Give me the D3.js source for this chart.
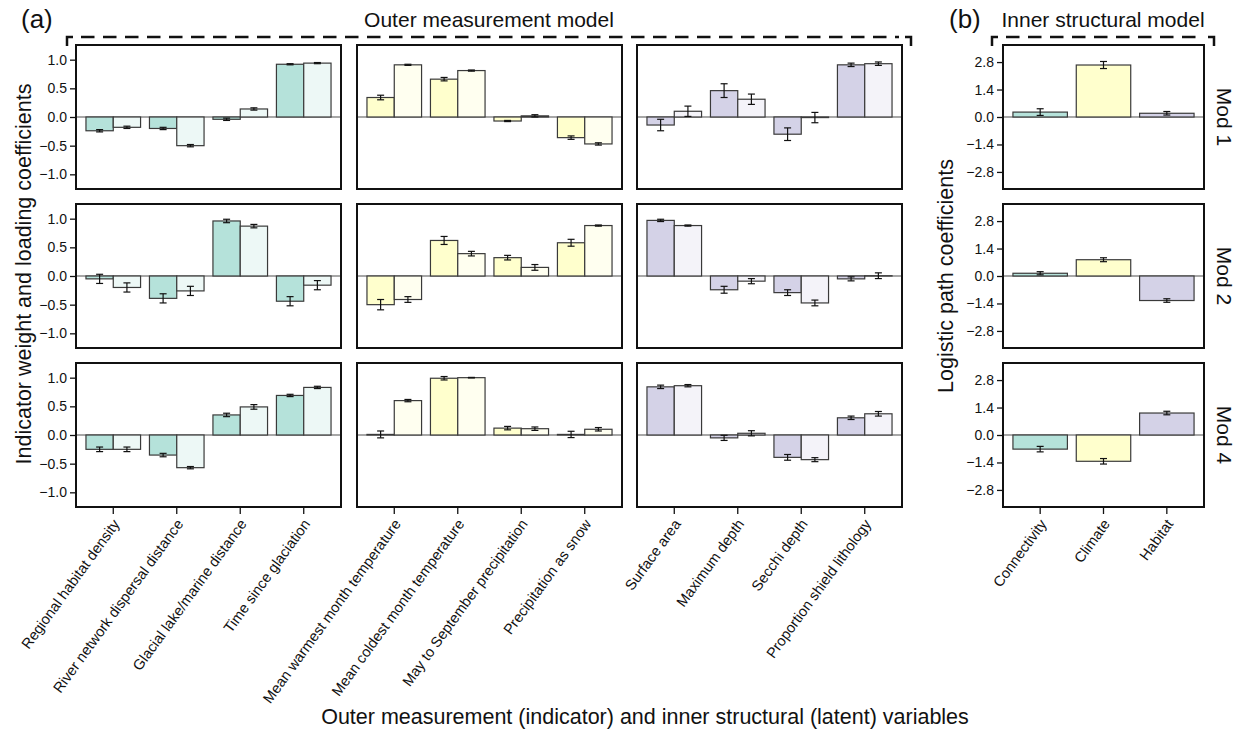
<!DOCTYPE html>
<html>
<head>
<meta charset="utf-8">
<script src="https://cdn.jsdelivr.net/npm/d3@7"></script>
<style>
body { margin: 0; background: #fff; }
text { font-family: "Liberation Sans", Arial, sans-serif; fill: #111; }
</style>
</head>
<body>
<div id="chartDiv"></div>
<script>
"use strict";

// categories
var connectivityVars = ["Regional habitat density", "River network dispersal distance", "Glacial lake/marine distance", "Time since glaciation"];
var climateVars = ["Mean warmest month temperature", "Mean coldest month temperature", "May to September precipitation", "Precipitation as snow"];
var habitatVars = ["Surface area", "Maximum depth", "Secchi depth", "Proportion shield lithology"];
var latentVars = ["Connectivity", "Climate", "Habitat"];
var models = ["Mod 1", "Mod 2", "Mod 4"];

// outer weights (dark bars) and loadings (light bars), 12 indicators per model
var weightMod1 = [-0.24, -0.20, -0.04, 0.92, 0.34, 0.66, -0.07, -0.36, -0.14, 0.46, -0.30, 0.91];
var weightErrMod1 = [0.02, 0.02, 0.02, 0.01, 0.04, 0.03, 0.01, 0.03, 0.10, 0.12, 0.11, 0.03];
var loadingMod1 = [-0.18, -0.50, 0.14, 0.94, 0.91, 0.81, 0.02, -0.47, 0.10, 0.31, -0.01, 0.93];
var loadingErrMod1 = [0.02, 0.02, 0.02, 0.01, 0.01, 0.01, 0.02, 0.02, 0.09, 0.09, 0.09, 0.03];

var weightMod2 = [-0.05, -0.39, 0.96, -0.44, -0.50, 0.62, 0.32, 0.58, 0.97, -0.24, -0.29, -0.05];
var weightErrMod2 = [0.08, 0.08, 0.03, 0.08, 0.09, 0.07, 0.04, 0.06, 0.02, 0.06, 0.05, 0.035];
var loadingMod2 = [-0.20, -0.26, 0.87, -0.16, -0.41, 0.39, 0.15, 0.88, 0.88, -0.09, -0.47, 0.005];
var loadingErrMod2 = [0.08, 0.08, 0.03, 0.08, 0.05, 0.04, 0.05, 0.01, 0.01, 0.045, 0.05, 0.05];

var weightMod4 = [-0.25, -0.35, 0.35, 0.69, 0.01, 0.99, 0.12, 0.01, 0.84, -0.05, -0.39, 0.30];
var weightErrMod4 = [0.04, 0.03, 0.03, 0.02, 0.06, 0.03, 0.03, 0.055, 0.03, 0.045, 0.05, 0.03];
var loadingMod4 = [-0.25, -0.57, 0.49, 0.83, 0.60, 1.00, 0.11, 0.10, 0.86, 0.03, -0.43, 0.37];
var loadingErrMod4 = [0.04, 0.02, 0.04, 0.02, 0.02, 0.005, 0.03, 0.03, 0.02, 0.045, 0.035, 0.04];

// inner path coefficients per model
var pathMod1 = [0.25, 2.65, 0.19];
var pathErrMod1 = [0.17, 0.18, 0.09];
var pathMod2 = [0.14, 0.83, -1.25];
var pathErrMod2 = [0.08, 0.10, 0.09];
var pathMod4 = [-0.72, -1.34, 1.12];
var pathErrMod4 = [0.14, 0.14, 0.09];

// tick values
var outerTicks = [-1.0, -0.5, 0.0, 0.5, 1.0];
var innerTicks = [-2.8, -1.4, 0.0, 1.4, 2.8];

// colours: dark = weight / latent, light = loading
var darkFill = ["#b5e2da", "#ffffcd", "#d4d2e7"];
var lightFill = ["#edf8f6", "#fffff0", "#f4f3f9"];

// layout
var svgWidth = 1244, svgHeight = 731;
var rowTop = [45, 204, 363], rowHeight = 144;
var blockLeft = [76, 357, 637], blockWidth = 265;
var innerLeft = 1003, innerWidth = 201;

var svg = d3.select("#chartDiv").append("svg")
    .attr("width", svgWidth).attr("height", svgHeight)
    .style("background", "#fff");

var yOuter = d3.scaleLinear().domain([-1.256, 1.256]).range([rowHeight, 0]);
var yInner = d3.scaleLinear().domain([-3.67, 3.67]).range([rowHeight, 0]);

var rows = [
    {w: weightMod1, we: weightErrMod1, l: loadingMod1, le: loadingErrMod1, p: pathMod1, pe: pathErrMod1},
    {w: weightMod2, we: weightErrMod2, l: loadingMod2, le: loadingErrMod2, p: pathMod2, pe: pathErrMod2},
    {w: weightMod4, we: weightErrMod4, l: loadingMod4, le: loadingErrMod4, p: pathMod4, pe: pathErrMod4}
];
var blocks = [connectivityVars, climateVars, habitatVars];

// draw one framed panel; series is a list of {values, errors}, fillFor(k, i) gives the colour
function drawPanel(g, cats, series, fillFor, y, ticks, width, showY, bottom) {
    var x0 = d3.scaleBand().domain(cats).range([0, width]).paddingInner(0.14).paddingOuter(0.157);
    var x1 = d3.scaleBand().domain(d3.range(series.length)).range([0, x0.bandwidth()]);

    // zero line
    g.append("line")
        .attr("x1", 0).attr("x2", width)
        .attr("y1", y(0)).attr("y2", y(0))
        .attr("stroke", "#8a8a8a").attr("stroke-width", 1.3);

    series.forEach(function (s, k) {
        var data = cats.map(function (c, i) {
            return {cat: c, v: s.values[i], e: s.errors[i], fill: fillFor(k, i)};
        });

        g.append("g").selectAll("rect").data(data).enter()
            .append("rect")
            .attr("x", function (d) { return x0(d.cat) + x1(k); })
            .attr("y", function (d) { return y(Math.max(0, d.v)); })
            .attr("width", x1.bandwidth())
            .attr("height", function (d) { return Math.abs(y(d.v) - y(0)); })
            .attr("fill", function (d) { return d.fill; })
            .attr("stroke", "#3a3a3a")
            .attr("stroke-width", 1.2);

        // error bars with caps
        var eb = g.append("g").selectAll("g").data(data).enter().append("g")
            .attr("transform", function (d) { return "translate(" + (x0(d.cat) + x1(k) + x1.bandwidth() / 2) + ",0)"; })
            .attr("stroke", "#111").attr("stroke-width", 1.2);
        eb.append("line")
            .attr("y1", function (d) { return y(d.v - d.e); })
            .attr("y2", function (d) { return y(d.v + d.e); });
        eb.append("line").attr("x1", -3.5).attr("x2", 3.5)
            .attr("y1", function (d) { return y(d.v - d.e); })
            .attr("y2", function (d) { return y(d.v - d.e); });
        eb.append("line").attr("x1", -3.5).attr("x2", 3.5)
            .attr("y1", function (d) { return y(d.v + d.e); })
            .attr("y2", function (d) { return y(d.v + d.e); });
    });

    // y axis only on the first block and the inner panel
    if (showY) {
        var ya = g.append("g")
            .call(d3.axisLeft(y).tickValues(ticks).tickSize(6).tickPadding(3).tickFormat(d3.format(".1f")));
        ya.select(".domain").remove();
        ya.selectAll("line").attr("stroke", "#111").attr("stroke-width", 1.3);
        ya.selectAll("text").style("font-size", "14px").style("font-family", "'Liberation Sans', Arial, sans-serif").attr("fill", "#111");
    }

    // x axis only under the last row
    if (bottom) {
        var xa = g.append("g").attr("transform", "translate(0," + rowHeight + ")")
            .call(d3.axisBottom(x0).tickSize(7).tickFormat(""));
        xa.select(".domain").remove();
        xa.selectAll("line").attr("stroke", "#111").attr("stroke-width", 1.3);

        g.append("g").selectAll("text").data(cats).enter()
            .append("text")
            .attr("transform", function (d) {
                return "translate(" + (x0(d) + x0.bandwidth() / 2 + 3) + "," + (rowHeight + 14) + ") rotate(-54)";
            })
            .attr("text-anchor", "end")
            .attr("dy", "0.35em")
            .style("font-size", "14.6px")
            .text(function (d) { return d; });
    }

    // frame
    g.append("rect")
        .attr("width", width).attr("height", rowHeight)
        .attr("fill", "none").attr("stroke", "#111").attr("stroke-width", 2);
}

rows.forEach(function (r, ri) {
    blocks.forEach(function (cats, bi) {
        var g = svg.append("g").attr("transform", "translate(" + blockLeft[bi] + "," + rowTop[ri] + ")");
        var series = [
            {values: r.w.slice(bi * 4, bi * 4 + 4), errors: r.we.slice(bi * 4, bi * 4 + 4)},
            {values: r.l.slice(bi * 4, bi * 4 + 4), errors: r.le.slice(bi * 4, bi * 4 + 4)}
        ];
        drawPanel(g, cats, series, function (k) { return k === 0 ? darkFill[bi] : lightFill[bi]; },
            yOuter, outerTicks, blockWidth, bi === 0, ri === rows.length - 1);
    });

    var gi = svg.append("g").attr("transform", "translate(" + innerLeft + "," + rowTop[ri] + ")");
    drawPanel(gi, latentVars, [{values: r.p, errors: r.pe}], function (k, i) { return darkFill[i]; },
        yInner, innerTicks, innerWidth, true, ri === rows.length - 1);

    // model label on the right
    svg.append("text")
        .attr("transform", "translate(1217," + (rowTop[ri] + rowHeight / 2) + ") rotate(90)")
        .attr("text-anchor", "middle")
        .style("font-size", "21px")
        .text(models[ri]);
});

// dashed brackets over the two parts
function bracket(x1, x2, y, yEnd) {
    svg.append("path")
        .attr("d", "M" + x1 + "," + yEnd + "V" + y + "H" + (x1 + 6) + "M" + (x2 - 6) + "," + y + "H" + x2 + "V" + yEnd)
        .attr("fill", "none").attr("stroke", "#111").attr("stroke-width", 2.5);
    svg.append("line")
        .attr("x1", x1 + 14).attr("x2", x2 - 12).attr("y1", y).attr("y2", y)
        .attr("stroke", "#111").attr("stroke-width", 2.5)
        .attr("stroke-dasharray", "13.5,8.5");
}
bracket(67, 911, 37, 46);
bracket(992, 1214, 37, 46);

// titles and axis labels
svg.append("text").attr("x", 21).attr("y", 28).style("font-size", "26px").text("(a)");
svg.append("text").attr("x", 949).attr("y", 28).style("font-size", "26px").text("(b)");
svg.append("text").attr("x", 489).attr("y", 27).attr("text-anchor", "middle").style("font-size", "21px").text("Outer measurement model");
svg.append("text").attr("x", 1103).attr("y", 27).attr("text-anchor", "middle").style("font-size", "21px").text("Inner structural model");

svg.append("text")
    .attr("transform", "translate(31,274) rotate(-90)")
    .attr("text-anchor", "middle").style("font-size", "21.5px")
    .text("Indicator weight and loading coefficients");
svg.append("text")
    .attr("transform", "translate(953,276) rotate(-90)")
    .attr("text-anchor", "middle").style("font-size", "21.5px")
    .text("Logistic path coefficients");
svg.append("text")
    .attr("x", 645).attr("y", 724).attr("text-anchor", "middle").style("font-size", "21.5px")
    .text("Outer measurement (indicator) and inner structural (latent) variables");
</script>
</body>
</html>
